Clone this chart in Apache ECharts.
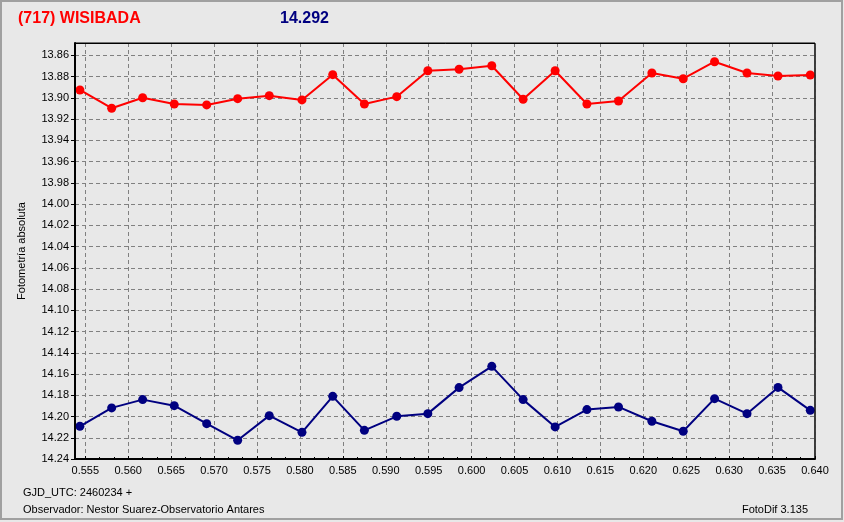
<!DOCTYPE html>
<html>
<head>
<meta charset="utf-8">
<script src="https://cdn.jsdelivr.net/npm/echarts@6/dist/echarts.min.js"></script>
<style>
html,body{margin:0;padding:0;background:#e8e8e8;}
#c{width:844px;height:522px;}
</style>
</head>
<body>
<div id="c"></div>
<script>
const titleText = '(717) WISIBADA';
const titleValue = '14.292';
const yAxisName = 'Fotometría absoluta';
const footer1 = 'GJD_UTC: 2460234 +';
const footer2 = 'Observador: Nestor Suarez-Observatorio Antares';
const footer3 = 'FotoDif 3.135';

const xValues = [0.55437, 0.55807, 0.56168, 0.56536, 0.56914, 0.57275, 0.57643, 0.58024,
  0.58382, 0.58751, 0.59128, 0.59490, 0.59854, 0.60235, 0.60600, 0.60973,
  0.61343, 0.61711, 0.62100, 0.62465, 0.62830, 0.63208, 0.63569, 0.63945];
const redValues = [13.8926, 13.9098, 13.8999, 13.9058, 13.9067, 13.9008, 13.8980, 13.9020,
  13.8782, 13.9058, 13.8989, 13.8745, 13.8731, 13.8698, 13.9014, 13.8745,
  13.9058, 13.9030, 13.8766, 13.8820, 13.8660, 13.8766, 13.8795, 13.8785];
const blueValues = [14.2092, 14.1919, 14.1841, 14.1898, 14.2067, 14.2224, 14.1992, 14.2149,
  14.1810, 14.2130, 14.1998, 14.1973, 14.1728, 14.1528, 14.1841, 14.2098,
  14.1935, 14.1910, 14.2045, 14.2139, 14.1832, 14.1973, 14.1726, 14.1942];
const xMin = 0.5538, xMax = 0.6400, xStep = 0.005;
const yMin = 13.8484, yMax = 14.24, yStep = 0.02;

const chart = echarts.init(document.getElementById('c'), null, {renderer: 'canvas'});
const font = 'Liberation Sans';
function isMult(v, s) { const r = v / s; return Math.abs(r - Math.round(r)) < 1e-6; }

const option = {
  backgroundColor: '#e8e8e8',
  animation: false,
  grid: {left: 75, right: 29, top: 43, bottom: 63, show: true, backgroundColor: '#e8e8e8', borderColor: '#000', borderWidth: 1},
  xAxis: {
    type: 'value', min: xMin, max: xMax, splitNumber: 17,
    axisLine: {show: true, onZero: false, lineStyle: {color: '#000', width: 2}},
    axisTick: {show: true, inside: true, length: 3, lineStyle: {color: '#000'}},
    minorTick: {show: true, splitNumber: 3, length: 2, lineStyle: {color: '#000'}},
    axisLabel: {color: '#000', fontFamily: font, fontSize: 11, margin: 6, showMinLabel: false,
      formatter: v => isMult(v, xStep) ? v.toFixed(3) : ''},
    splitLine: {show: true, lineStyle: {color: '#808080', type: [4, 3], width: 1}}
  },
  yAxis: {
    type: 'value', inverse: true, min: yMin, max: yMax, splitNumber: 20,
    name: yAxisName, nameLocation: 'middle', nameGap: 48, nameRotate: 90,
    nameTextStyle: {color: '#000', fontFamily: font, fontSize: 11},
    axisLine: {show: true, onZero: false, lineStyle: {color: '#000', width: 2}},
    axisTick: {show: true, length: 4, lineStyle: {color: '#000'}},
    axisLabel: {color: '#000', fontFamily: font, fontSize: 11, margin: 6, showMinLabel: false,
      formatter: v => isMult(v, yStep) ? v.toFixed(2) : ''},
    splitLine: {show: true, lineStyle: {color: '#808080', type: [4, 3], width: 1}}
  },
  series: [
    {type: 'line', data: xValues.map((x, i) => [x, redValues[i]]), symbol: 'circle', symbolSize: 9,
      itemStyle: {color: '#ff0000'}, lineStyle: {color: '#ff0000', width: 2}, z: 5},
    {type: 'line', data: xValues.map((x, i) => [x, blueValues[i]]), symbol: 'circle', symbolSize: 9,
      itemStyle: {color: '#000080'}, lineStyle: {color: '#000080', width: 2}, z: 5}
  ],
  graphic: [
    {type: 'rect', z: 100, silent: true, shape: {x: 1, y: 1, width: 841, height: 518},
      style: {fill: null, stroke: '#a0a0a0', lineWidth: 2}},
    {type: 'rect', z: 100, silent: true, shape: {x: 75.5, y: 43.5, width: 739.5, height: 415.5},
      style: {fill: null, stroke: '#000', lineWidth: 1}},
    {type: 'text', left: 18, top: 11, z: 100,
      style: {text: titleText, fill: '#ff0000', font: 'bold 16px "Liberation Sans"'}},
    {type: 'text', left: 280, top: 11, z: 100,
      style: {text: titleValue, fill: '#000080', font: 'bold 16px "Liberation Sans"'}},
    {type: 'text', left: 23, top: 487, z: 100,
      style: {text: footer1, fill: '#000', font: '11px "Liberation Sans"'}},
    {type: 'text', left: 23, top: 504, z: 100,
      style: {text: footer2, fill: '#000', font: '11px "Liberation Sans"'}},
    {type: 'text', right: 36, top: 504, z: 100,
      style: {text: footer3, fill: '#000', font: '11px "Liberation Sans"'}}
  ]
};
chart.setOption(option);
</script>
</body>
</html>
